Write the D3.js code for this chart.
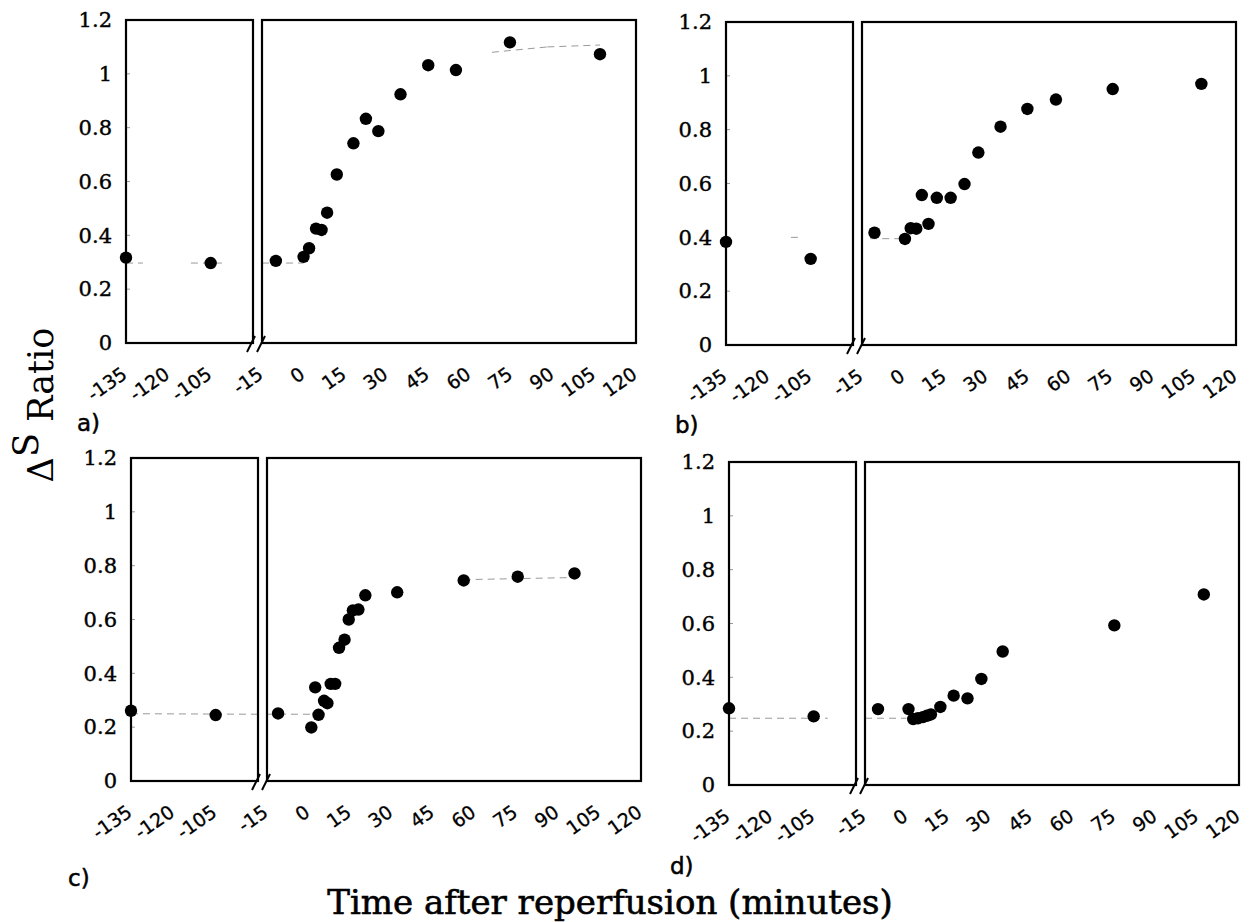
<!DOCTYPE html>
<html>
<head>
<meta charset="utf-8">
<script src="https://cdn.jsdelivr.net/npm/d3@7"></script>
<style>
  body { margin: 0; background: #fff; }
</style>
</head>
<body>
<div class="article"></div>
<script>
//tick values
var leftTicks = [-135, -120, -105];
var rightTicks = [-15, 0, 15, 30, 45, 60, 75, 90, 105, 120];
var yTicks = [0, 0.2, 0.4, 0.6, 0.8, 1, 1.2];
var panelLetters = ["a)", "b)", "c)", "d)"];

//panel a
var timeA = [-135, -105, -10, 0, 2, 4.5, 6.5, 8.5, 12, 18, 22.5, 27, 35, 45, 55, 74.5, 107];
var ratioA = [0.317, 0.297, 0.305, 0.32, 0.352, 0.425, 0.42, 0.484, 0.626, 0.742, 0.833, 0.787, 0.924, 1.032, 1.014, 1.117, 1.073];
var fitA = [[-135, 0.297, -129, 0.297], [-112, 0.297, -100, 0.297], [-15, 0.297, 0, 0.297], [68, 1.08, 88, 1.1], [88, 1.1, 107, 1.107]];

//panel b
var timeB = [-135, -105, -10.5, 0.5, 2.6, 4.6, 6.6, 9, 12, 17, 22, 27, 35, 44.7, 55, 75.5, 107.5];
var ratioB = [0.383, 0.32, 0.417, 0.394, 0.434, 0.432, 0.557, 0.45, 0.547, 0.547, 0.598, 0.715, 0.811, 0.877, 0.912, 0.951, 0.97];
var fitB = [[-112, 0.4, -108, 0.4], [-12, 0.395, -1, 0.395]];

//panel c
var timeC = [-135, -105, -11, 1, 2.4, 3.6, 5.6, 6.8, 8, 9.6, 11, 13, 14.5, 16, 18, 20.5, 32, 56, 75.5, 96];
var ratioC = [0.261, 0.245, 0.251, 0.199, 0.348, 0.246, 0.298, 0.289, 0.361, 0.361, 0.495, 0.525, 0.6, 0.634, 0.637, 0.69, 0.701, 0.745, 0.759, 0.771];
var fitC = [[-135, 0.25, -90, 0.248], [-15, 0.248, 3, 0.248], [56, 0.748, 96, 0.756]];

//panel d
var timeD = [-135, -105, -10.3, 0.7, 2.4, 4.1, 5.9, 7.3, 8.8, 12.2, 17, 22, 27, 34.7, 75, 107.3];
var ratioD = [0.285, 0.255, 0.282, 0.282, 0.245, 0.248, 0.252, 0.257, 0.262, 0.29, 0.332, 0.322, 0.394, 0.496, 0.593, 0.708];
var fitD = [[-135, 0.248, -100, 0.248], [-15, 0.248, 0, 0.248]];

var allTimes = [timeA, timeB, timeC, timeD];
var allRatios = [ratioA, ratioB, ratioC, ratioD];
var allFits = [fitA, fitB, fitC, fitD];

//setting svg dimension
var svgWidth = 1259;
var svgHeight = 922;

//box sizes shared by the four panels
var leftW = 127;
var gap = 9;
var rightW = 374;
var boxH = 323;

//where each panel sits
var panels = [
  {x: 126, top: 20, lx: 77, ly: 431},
  {x: 726, top: 22, lx: 675, ly: 433},
  {x: 131, top: 458, lx: 68, ly: 886},
  {x: 729, top: 462, lx: 670, ly: 874}
];

var svg = d3.select(".article")
  .append("svg")
  .attr("width", svgWidth)
  .attr("height", svgHeight);

function drawPanel(p, times, ratios, fits, letter) {
    var bottom = p.top + boxH;

    var xLeft = d3.scaleLinear()
        .domain([-135, -90])
        .range([p.x, p.x + leftW]);
    var xRight = d3.scaleLinear()
        .domain([-15, 120])
        .range([p.x + leftW + gap, p.x + leftW + gap + rightW]);
    var yScale = d3.scaleLinear()
        .domain([0, 1.2])
        .range([bottom, p.top]);

    function xOf(t) {
        return t <= -90 ? xLeft(t) : xRight(t);
    }

    var g = svg.append("g");

    //y axis labels
    var yAxis = g.append("g")
        .attr("transform", `translate(${p.x}, 0)`)
        .call(d3.axisLeft(yScale).tickValues(yTicks).tickSize(0).tickPadding(14).tickFormat(d => String(d)));
    yAxis.select(".domain").remove();
    yAxis.selectAll("text")
        .attr("font-family", "DejaVu Serif")
        .style("font-size", "21px")
        .attr("fill", "#000")
        .attr("stroke", "#000")
        .attr("stroke-width", 0.4);

    //tiny ticks inside the left box
    g.selectAll(".minor")
        .data(yTicks.slice(1, -1))
        .enter()
        .append("line")
        .attr("x1", p.x)
        .attr("x2", p.x + 4)
        .attr("y1", d => yScale(d))
        .attr("y2", d => yScale(d))
        .attr("stroke", "#999")
        .attr("stroke-width", 1);

    //x axis labels for both boxes
    [[xLeft, leftTicks], [xRight, rightTicks]].forEach(function(pair) {
        var ax = g.append("g")
            .attr("transform", `translate(0, ${bottom})`)
            .call(d3.axisBottom(pair[0]).tickValues(pair[1]).tickSize(0).tickFormat(d => String(d)));
        ax.select(".domain").remove();
        ax.selectAll("text")
            .attr("x", 0)
            .attr("y", 0)
            .attr("dy", 0)
            .attr("text-anchor", "end")
            .attr("transform", "translate(2, 34) rotate(-35)")
            .attr("font-family", "DejaVu Sans")
            .style("font-size", "19px")
            .attr("fill", "#000")
            .attr("stroke", "#000")
            .attr("stroke-width", 0.3);
    });

    //faint fitted line pieces
    g.selectAll(".fit")
        .data(fits)
        .enter()
        .append("line")
        .attr("x1", d => xOf(d[0]))
        .attr("y1", d => yScale(d[1]))
        .attr("x2", d => xOf(d[2]))
        .attr("y2", d => yScale(d[3]))
        .attr("stroke", "#9a9a9a")
        .attr("stroke-width", 1)
        .attr("stroke-dasharray", "7,5");

    //the two boxes
    g.append("rect")
        .attr("x", xLeft(-135))
        .attr("y", p.top)
        .attr("width", leftW)
        .attr("height", boxH)
        .attr("fill", "none")
        .attr("stroke", "#000")
        .attr("stroke-width", 2.2);
    g.append("rect")
        .attr("x", xRight(-15))
        .attr("y", p.top)
        .attr("width", rightW)
        .attr("height", boxH)
        .attr("fill", "none")
        .attr("stroke", "#000")
        .attr("stroke-width", 2.2);

    //axis break marks
    var bx = xLeft(-90);
    g.selectAll(".brk")
        .data([0, 10])
        .enter()
        .append("line")
        .attr("x1", d => bx - 6 + d)
        .attr("y1", bottom + 9)
        .attr("x2", d => bx + 2 + d)
        .attr("y2", bottom - 7)
        .attr("stroke", "#000")
        .attr("stroke-width", 2);

    //data points
    g.selectAll(".pt")
        .data(times.map((t, i) => [t, ratios[i]]))
        .enter()
        .append("circle")
        .attr("cx", d => xOf(d[0]))
        .attr("cy", d => yScale(d[1]))
        .attr("r", 6.2)
        .attr("fill", "#000");

    //panel letter
    g.append("text")
        .attr("x", p.lx)
        .attr("y", p.ly)
        .attr("font-family", "DejaVu Sans")
        .style("font-size", "23px")
        .attr("stroke", "#000")
        .attr("stroke-width", 0.5)
        .text(letter);
}

panels.forEach(function(p, i) {
    drawPanel(p, allTimes[i], allRatios[i], allFits[i], panelLetters[i]);
});

//y axis title
var yTitle = svg.append("text")
    .attr("transform", "translate(53, 405) rotate(-90)")
    .attr("text-anchor", "middle")
    .attr("font-family", "DejaVu Serif")
    .style("font-size", "35px");
yTitle.append("tspan").text("\u0394");
yTitle.append("tspan").attr("dy", "-0.42em").text("S");
yTitle.append("tspan").attr("dy", "0.42em").text(" Ratio");

//x axis title
svg.append("text")
    .attr("x", 610)
    .attr("y", 914)
    .attr("text-anchor", "middle")
    .attr("font-family", "DejaVu Serif")
    .style("font-size", "34px")
    .attr("stroke", "#000")
    .attr("stroke-width", 0.6)
    .text("Time after reperfusion (minutes)");
</script>
</body>
</html>
